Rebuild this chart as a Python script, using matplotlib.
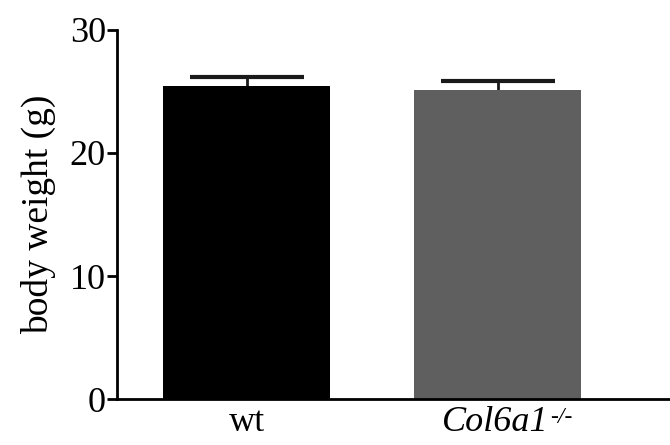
import matplotlib
matplotlib.use('Agg')
import matplotlib.pyplot as plt
import numpy as np

# values
groups = ['wt', 'Col6a1']
genotype_sup = ['', '-/-']
weight = [25.4, 25.1]
sem = [0.8, 0.75]
colors = ['#000000', '#5f5f5f']

plt.rcParams['font.family'] = ['Liberation Serif', 'DejaVu Serif']

fig = plt.figure(figsize=(6.7, 4.45), dpi=100)
ax = fig.add_axes([0.1746, 0.103, 0.8254, 0.830])

x = np.arange(len(groups))
ax.bar(x, weight, width=0.665, color=colors, zorder=2)
# error bars sit behind the bars so only the upper half shows
ax.errorbar(x, weight, yerr=sem, fmt='none',
            ecolor='#1a1a1a', elinewidth=2, capsize=41, capthick=3, zorder=1)

ax.set_xlim(-0.516, 1.687)
ax.set_ylim(0, 30)
ax.set_yticks([0, 10, 20, 30])
ax.set_xticks(x)
ax.set_xticklabels([groups[0], ''])
ax.set_ylabel('body weight (g)', fontsize=27, labelpad=10)

# knockout label drawn by hand: italic name plus a small superscript
ax.annotate(groups[1], xy=(x[1], 0), xycoords=('data', 'axes fraction'),
            xytext=(37, -5), textcoords='offset points',
            fontsize=26, fontstyle='italic', va='top', ha='right',
            annotation_clip=False)
ax.annotate(genotype_sup[1], xy=(x[1], 0), xycoords=('data', 'axes fraction'),
            xytext=(38, -13), textcoords='offset points',
            fontsize=17, fontstyle='italic', va='center', ha='left',
            annotation_clip=False)

for s in ['top', 'right']:
    ax.spines[s].set_visible(False)
for s in ['left', 'bottom']:
    ax.spines[s].set_linewidth(2)
ax.tick_params(axis='y', labelsize=26, width=2, length=7, pad=1)
ax.tick_params(axis='x', labelsize=26, length=0, pad=5)

plt.savefig('out.png', dpi=100)
